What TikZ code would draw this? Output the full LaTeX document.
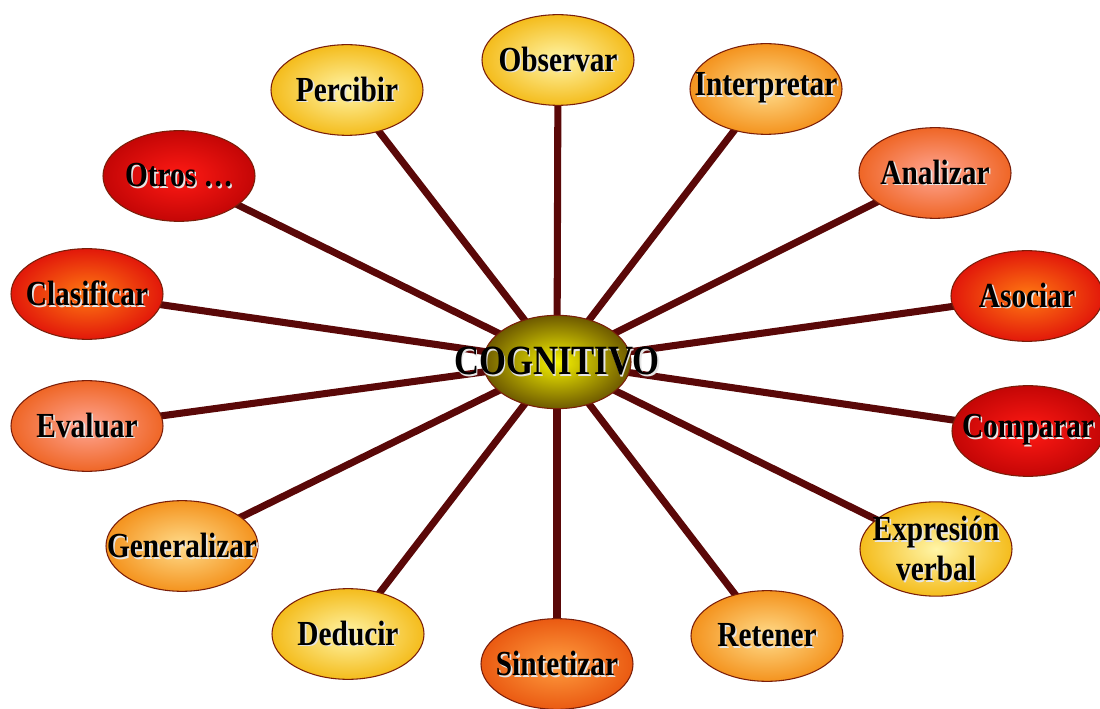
\documentclass[tikz,border=0pt]{standalone}
\usepackage{fontspec}
\usepackage{graphicx}
\setmainfont{Liberation Serif}
\usetikzlibrary{shapes.geometric,backgrounds}
\definecolor{spoke}{HTML}{5A0808}
\definecolor{rim}{HTML}{7A1E0A}
\definecolor{hubin}{HTML}{F6F200}
\definecolor{hubout}{HTML}{6E5A00}
\definecolor{yelin}{HTML}{FFF5A8}
\definecolor{yelout}{HTML}{F4BC1C}
\definecolor{ltorin}{HTML}{FFDC8C}
\definecolor{ltorout}{HTML}{F4931E}
\definecolor{orin}{HTML}{FFA694}
\definecolor{orout}{HTML}{EF6626}
\definecolor{dporin}{HTML}{FF9E40}
\definecolor{dporout}{HTML}{EA5A12}
\definecolor{redin}{HTML}{FF7A12}
\definecolor{redout}{HTML}{E2180A}
\definecolor{dkredin}{HTML}{FF1A14}
\definecolor{dkredout}{HTML}{C40606}
\newcommand\shtxt[1]{\scalebox{1}[1.2]{\makebox[0pt]{\kern2.4pt\raisebox{-1.2pt}{\textcolor{white!80!gray}{#1}}}\makebox[0pt]{#1}}}

\begin{document}
\begin{tikzpicture}[x=0.75pt,y=-0.75pt,
  bubble/.style={ellipse,draw=rim,line width=0.8pt,minimum width=114pt,
                 minimum height=68pt,inner sep=0pt,align=center,
                 font=\fontsize{22}{30}\selectfont\bfseries},
  yellowb/.style={bubble,inner color=yelin,outer color=yelout},
  ltorangeb/.style={bubble,inner color=ltorin,outer color=ltorout},
  orangeb/.style={bubble,inner color=orin,outer color=orout},
  dporangeb/.style={bubble,inner color=dporin,outer color=dporout},
  redb/.style={bubble,inner color=redin,outer color=redout},
  dkredb/.style={bubble,inner color=dkredin,outer color=dkredout},
  hub/.style={ellipse,draw=rim,line width=0.8pt,minimum width=111pt,
              minimum height=70pt,inner color=hubin,outer color=hubout},
  hubtext/.style={font=\fontsize{26}{30}\selectfont\bfseries},
  spokeline/.style={draw=spoke,line width=5.3pt}]
\useasboundingbox (0,0) rectangle (1100,709);

%centre
\node [hub] (hub) at (557,362) {};
\node [hubtext] (hubtxt) at (hub.center) {\shtxt{COGNITIVO}};

%top half
\node [yellowb]   (obs) at (558,60)   {\shtxt{Observar}};
\node [yellowb]   (per) at (347,90)   {\shtxt{Percibir}};
\node [ltorangeb] (int) at (766,89)   {\shtxt{Interpretar}};
\node [dkredb]    (otr) at (179,176)  {\shtxt{Otros \dots}};
\node [orangeb]   (ana) at (935,173)  {\shtxt{Analizar}};
\node [redb]      (cla) at (87,294)   {\shtxt{Clasificar}};
\node [redb]      (aso) at (1027,296) {\shtxt{Asociar}};

%bottom half
\node [orangeb]   (eva) at (87,426)   {\shtxt{Evaluar}};
\node [dkredb]    (com) at (1028,431) {\shtxt{Comparar}};
\node [ltorangeb] (gen) at (182,546)  {\shtxt{Generalizar}};
\node [yellowb]   (exp) at (936,549)  {\shtxt{Expresión}\\\shtxt{verbal}};
\node [yellowb]   (ded) at (348,634)  {\shtxt{Deducir}};
\node [dporangeb] (sin) at (557,664)  {\shtxt{Sintetizar}};
\node [ltorangeb] (ret) at (767,636)  {\shtxt{Retener}};

%spokes
\begin{scope}[on background layer]
\draw [spokeline] (hub.center) -- (obs.center);
\draw [spokeline] (hub.center) -- (per.center);
\draw [spokeline] (hub.center) -- (int.center);
\draw [spokeline] (hub.center) -- (otr.center);
\draw [spokeline] (hub.center) -- (ana.center);
\draw [spokeline] (hub.center) -- (cla.center);
\draw [spokeline] (hub.center) -- (aso.center);
\draw [spokeline] (hub.center) -- (eva.center);
\draw [spokeline] (hub.center) -- (com.center);
\draw [spokeline] (hub.center) -- (gen.center);
\draw [spokeline] (hub.center) -- (exp.center);
\draw [spokeline] (hub.center) -- (ded.center);
\draw [spokeline] (hub.center) -- (sin.center);
\draw [spokeline] (hub.center) -- (ret.center);
\end{scope}

\end{tikzpicture}
\end{document}
